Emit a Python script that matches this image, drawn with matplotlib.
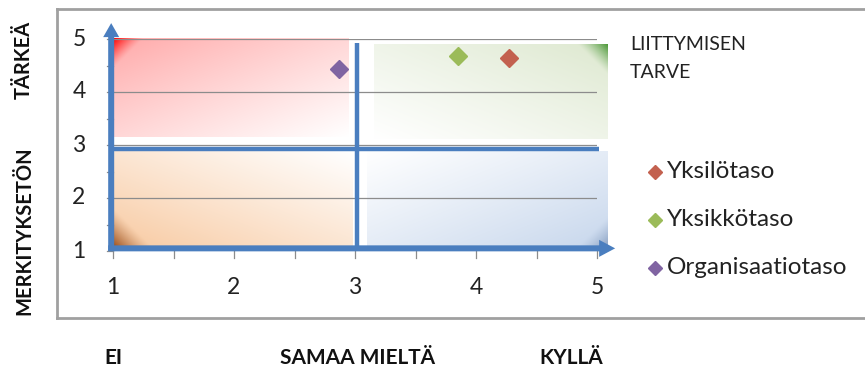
import numpy as np
import matplotlib
matplotlib.use("Agg")
import matplotlib.pyplot as plt
from matplotlib.patches import FancyArrow

# Survey results: agreement (x) vs. importance (y)
series_names = ["Yksilötaso", "Yksikkötaso", "Organisaatiotaso"]
x_values = [4.27, 3.85, 2.87]
y_values = [4.65, 4.67, 4.43]
series_colors = ["#c3614f", "#9bbb59", "#8064a2"]

x_ticks = [1, 2, 3, 4, 5]
y_ticks = [1, 2, 3, 4, 5]

plt.rcParams["font.family"] = ["Lato", "DejaVu Sans"]

W, H = 865, 371
fig = plt.figure(figsize=(W / 100, H / 100), dpi=100)

# chart frame (open on the right)
frame = fig.add_axes([0, 0, 1, 1], zorder=-5)
frame.set_xlim(0, W)
frame.set_ylim(H, 0)
frame.axis("off")
frame.plot([57, W + 5], [9, 9], color="#a0a0a0", lw=2)
frame.plot([57, W + 5], [318, 318], color="#a0a0a0", lw=2)
frame.plot([57, 57], [9, 318], color="#a0a0a0", lw=2)

ax = fig.add_axes([113 / W, 1 - 251 / H, 484 / W, 212 / H])
ax.set_xlim(1, 5)
ax.set_ylim(1, 5)
ax.axis("off")

px_x = 121.0  # pixels per x unit
px_y = 53.0   # pixels per y unit


def quadrant(x0, x1, y0, y1, corner, pale, strong, corner_len=30):
    """Gradient fill, strongest at the given corner, fading to white."""
    nx, ny = 200, 100
    u = np.linspace(0, 1, nx)[None, :]
    v = np.linspace(0, 1, ny)[:, None]  # 0 = bottom
    cu = u if corner[0] == "l" else 1 - u
    cv = v if corner[1] == "b" else 1 - v
    d = (cu + cv) / 2.0
    wpx = (x1 - x0) * px_x
    hpx = (y1 - y0) * px_y
    dpx = cu * wpx + cv * hpx
    pale = np.array(matplotlib.colors.to_rgb(pale))
    strong = np.array(matplotlib.colors.to_rgb(strong))
    t = np.clip(d, 0, 1)[..., None] ** 0.9
    img = pale * (1 - t) + np.ones(3) * t
    wc = np.clip(1 - dpx / corner_len, 0, 1)[..., None] ** 1.3
    img = img * (1 - wc) + strong * wc
    ax.imshow(img, extent=[x0, x1, y0, y1], origin="lower", aspect="auto",
              interpolation="bilinear", zorder=0, clip_on=False)


quadrant(1.0, 2.95, 3.15, 5.0, ("l", "t"), "#ffa8a8", "#ff0000", 30)
quadrant(3.16, 5.09, 3.11, 4.89, ("r", "t"), "#dde8cf", "#4f9a3c", 30)
quadrant(1.0, 2.98, 1.1, 2.89, ("l", "b"), "#f8c9a0", "#9e5523", 38)
quadrant(3.10, 5.09, 1.08, 2.89, ("r", "b"), "#c6d6ec", "#8ca3c4", 30)
ax.set_xlim(1, 5)
ax.set_ylim(1, 5)

# horizontal gridlines
for yv in y_ticks[1:]:
    ax.plot([1, 5], [yv, yv], color="#8c8c8c", lw=0.9, zorder=1)

# tick marks
for xv in np.arange(1, 5.01, 0.5):
    ax.plot([xv, xv], [1, 1 - 7 / px_y], color="#8c8c8c", lw=0.9,
            zorder=1, clip_on=False)
for yv in np.arange(1, 5.01, 0.5):
    ax.plot([1, 1 - 6 / px_x], [yv, yv], color="#8c8c8c", lw=0.9,
            zorder=1, clip_on=False)

blue = "#4a7ebf"
# main axes arrows
ax.add_patch(FancyArrow(0.985, 1.0, 0, 4.3, width=6 / px_x,
                        head_width=16 / px_x, head_length=14 / px_y,
                        length_includes_head=True, color=blue, lw=0,
                        zorder=3, clip_on=False))
ax.add_patch(FancyArrow(0.96, 1.05, 4.19, 0, width=6 / px_y,
                        head_width=17 / px_y, head_length=16 / px_x,
                        length_includes_head=True, color=blue, lw=0,
                        zorder=3, clip_on=False))
# quadrant dividers
ax.plot([3.02, 3.02], [1.05, 4.93], color=blue, lw=3.2, zorder=3,
        solid_capstyle="butt", clip_on=False)
ax.plot([0.985, 5.02], [2.92, 2.92], color=blue, lw=3.2, zorder=3,
        solid_capstyle="butt", clip_on=False)

# data points
for xv, yv, c in zip(x_values, y_values, series_colors):
    ax.plot(xv, yv, marker="D", ms=9.5, color=c, mec=c, zorder=5,
            clip_on=False)

# tick labels
for xv in x_ticks:
    ax.text(xv, 1 - 36 / px_y, str(xv), ha="center", va="center",
            fontsize=16.5, color="#222222", clip_on=False)
for yv in y_ticks:
    ax.text(1 - 34 / px_x, yv, str(yv), ha="center", va="center",
            fontsize=16.5, color="#222222", clip_on=False)

# captions and legend in pixel coords
frame.text(630, 44, "LIITTYMISEN", fontsize=14, va="center", ha="left",
           color="#222222")
frame.text(630, 73, "TARVE", fontsize=14, va="center", ha="left",
           color="#222222")

leg_y = [172, 220, 268]
for name, c, yy in zip(series_names, series_colors, leg_y):
    frame.plot(655, yy, marker="D", ms=7.5, color=c, mec=c)
    frame.text(667, yy, name, fontsize=17.5, va="center", ha="left",
               color="#222222")

frame.text(24, 60, "TÄRKEÄ", rotation=90, fontsize=14.5, fontweight="bold",
           ha="center", va="center", color="#111111")
frame.text(24, 231, "MERKITYKSETÖN", rotation=90, fontsize=14.5,
           fontweight="bold", ha="center", va="center", color="#111111")
frame.text(113, 358, "EI", fontsize=15, fontweight="bold", ha="center",
           va="center", color="#111111")
frame.text(358, 358, "SAMAA MIELTÄ", fontsize=15, fontweight="bold",
           ha="center", va="center", color="#111111")
frame.text(571, 358, "KYLLÄ", fontsize=15, fontweight="bold", ha="center",
           va="center", color="#111111")

fig.savefig("out.png", dpi=100, facecolor="white")
